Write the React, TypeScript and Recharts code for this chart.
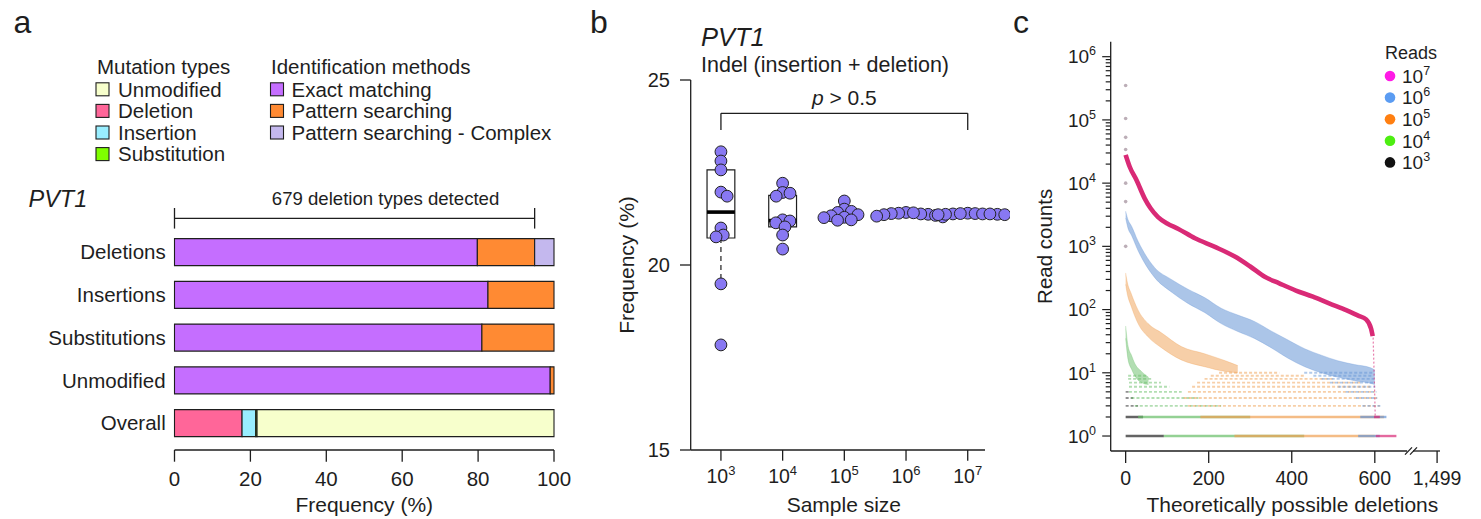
import React from 'react';
import {
  BarChart, Bar, XAxis, YAxis, ComposedChart, Scatter, Line, Area,
  ReferenceArea, ReferenceLine,
} from 'recharts';

const FONT = '"Liberation Sans", Arial, Helvetica, sans-serif';
const INK = '#1e1e1e';
const AXIS = { stroke: INK, strokeWidth: 1.3 };

/* ================= panel a data ================= */
const mutationTypes = ['Unmodified', 'Deletion', 'Insertion', 'Substitution'];
const mutationColors = ['#F7FFCC', '#FF6699', '#99EEFF', '#7FFF00'];
const methodNames = ['Exact matching', 'Pattern searching', 'Pattern searching - Complex'];
const methodColors = ['#C56EFF', '#FF8A33', '#C4B8EE'];

const barCategories = ['Deletions', 'Insertions', 'Substitutions', 'Unmodified', 'Overall'];
const exactMatching = [79.8, 82.6, 81.0, 99.0, 0];
const patternSearching = [15.1, 17.4, 19.0, 1.0, 0];
const patternComplex = [5.1, 0, 0, 0, 0];
const overallDeletion = [0, 0, 0, 0, 17.8];
const overallInsertion = [0, 0, 0, 0, 3.6];
const overallSubstitution = [0, 0, 0, 0, 0.35];
const overallUnmodified = [0, 0, 0, 0, 78.25];
const frequencyTicks = [0, 20, 40, 60, 80, 100];
const deletionTypesDetected = 679;

/* ================= panel b data ================= */
const sampleSizeExponents = [3, 4, 5, 6, 7];
const indel1e3 = [23.06, 22.81, 22.57, 21.97, 21.86, 21.0, 20.81, 20.76, 19.49, 17.84];
const indel1e4 = [22.21, 21.96, 21.94, 21.86, 21.22, 21.19, 21.14, 21.03, 20.81, 20.43];
const indel1e5 = [21.73, 21.51, 21.45, 21.42, 21.36, 21.33, 21.29, 21.28, 21.22, 21.21];
const indel1e6 = [21.42, 21.4, 21.39, 21.37, 21.36, 21.34, 21.32, 21.3, 21.38, 21.41];
const indel1e7 = [21.4, 21.39, 21.38, 21.38, 21.37, 21.37, 21.36, 21.36, 21.39, 21.38];
const boxQ1 = [20.73, 21.03, 21.28, 21.33, 21.36];
const boxMedian = [21.43, 21.2, 21.34, 21.37, 21.38];
const boxQ3 = [22.57, 21.88, 21.45, 21.4, 21.39];
const whiskerLow = [19.49, 20.43, 21.21, 21.3, 21.36];
const whiskerHigh = [23.06, 22.21, 21.73, 21.42, 21.4];
const frequencyTicksB = [15, 20, 25];
const pComparison = '> 0.5';

/* ================= panel c data ================= */
const readDepthExponents = [7, 6, 5, 4, 3];
const readLegendColors = ['#FF1AE6', '#5B9CF2', '#FF7F11', '#4DEE11', '#111111'];
const yTickExponents = [0, 1, 2, 3, 4, 5, 6];
const deletionTickPositions = [0, 200, 400, 600, 750];
const deletionTickLabels = ['0', '200', '400', '600', '1,499'];

// 10^7 reads: [deletion index, read count]
const reads1e7Curve = [
  [0, 28000], [10, 18000], [26, 11200], [46, 5700], [60, 4000], [78, 2900], [100, 2300],
  [126, 1900], [167, 1340], [215, 980], [263, 690], [300, 480], [335, 330], [370, 260],
  [410, 200], [451, 160], [490, 125], [531, 98], [560, 80], [579, 70], [591, 50], [595, 38],
];
const reads1e7Tail = [[596, 36], [598, 12], [600, 4], [601, 2]];
// scatter bands: [deletion index, low count, high count]
const reads1e6Band = [
  [0, 2800, 3600], [6, 1900, 2600], [14, 1500, 2100], [30, 850, 1200], [42, 600, 850],
  [70, 320, 460], [110, 190, 300], [150, 125, 210], [190, 90, 155], [230, 60, 105],
  [270, 45, 82], [310, 35, 65], [350, 25, 46], [391, 17, 33], [431, 12.5, 24],
  [471, 10, 19], [511, 8.5, 15.5], [551, 7.5, 13.5], [590, 6.8, 12], [600, 6.5, 11],
];
const reads1e5Band = [
  [0, 250, 380], [3, 190, 290], [14, 110, 175], [30, 60, 98], [54, 37, 60], [86, 25, 43],
  [134, 16, 26], [190, 12.5, 20], [240, 10.5, 15.5], [270, 10, 13],
];
const reads1e4Band = [
  [0, 35, 55], [6, 16, 26], [14, 11.5, 19], [22, 9, 14], [38, 7, 10.5], [55, 6.5, 8.5],
];
// discrete low-count rows: [read count, first index, last index]
const levels1e3 = [[1, 0, 92], [2, 0, 42], [3, 0, 30], [4, 0, 18], [5, 0, 10]];
const levels1e4 = [[1, 92, 430], [2, 30, 300], [3, 22, 230], [4, 14, 175], [5, 8, 135], [6, 8, 105], [7, 8, 85], [8, 6, 65], [9, 6, 52]];
const levels1e5 = [[1, 262, 600], [2, 180, 622], [3, 150, 612], [4, 140, 606], [5, 150, 600], [6, 160, 592], [7, 172, 565], [8, 190, 500], [9, 205, 430], [10, 225, 370]];
const levels1e6 = [[1, 560, 612], [2, 565, 628], [3, 570, 614], [4, 555, 606], [5, 530, 604], [6, 512, 601], [7, 492, 599], [8, 472, 598], [9, 452, 596], [10, 430, 594]];
const levels1e7 = [[1, 602, 652], [2, 598, 612]];
const topDeletionCounts = [350000, 105000, 53000, 34000, 10000, 5100, 1000];

const plotColors = { r7: '#D92A76', r6: '#6696D6', r5: '#F0A052', r4: '#66BE66', r3: '#222222' };

/* ================= helpers ================= */
// deterministic beeswarm: returns horizontal pixel offsets so markers do not overlap
function swarmOffsets(values: number[], pxPerY: number, minDist: number): number[] {
  const order = values.map((_, i) => i).sort((a, b) => values[b] - values[a]);
  const placed: { dx: number; py: number }[] = [];
  const result: number[] = new Array(values.length).fill(0);
  for (const i of order) {
    const py = values[i] * pxPerY;
    const candidates: number[] = [0];
    for (const p of placed) {
      const dy = Math.abs(p.py - py);
      if (dy < minDist) {
        const off = Math.sqrt(minDist * minDist - dy * dy) + 0.01;
        candidates.push(p.dx + off, p.dx - off);
      }
    }
    candidates.sort((a, b) => Math.abs(a) - Math.abs(b));
    let chosen = candidates[candidates.length - 1];
    for (const c of candidates) {
      if (placed.every((p) => (p.dx - c) ** 2 + (p.py - py) ** 2 >= minDist * minDist - 0.001)) {
        chosen = c;
        break;
      }
    }
    placed.push({ dx: chosen, py });
    result[i] = chosen;
  }
  return result;
}

/* ================= panel a ================= */
const A_FONT = 20.5;
function PanelA() {
  const data = barCategories.map((category, i) => ({
    category,
    exact: exactMatching[i],
    pattern: patternSearching[i],
    complex: patternComplex[i],
    deletion: overallDeletion[i],
    insertion: overallInsertion[i],
    substitution: overallSubstitution[i],
    unmodified: overallUnmodified[i],
  }));
  const series: [string, string][] = [
    ['exact', methodColors[0]], ['pattern', methodColors[1]], ['complex', methodColors[2]],
    ['deletion', mutationColors[1]], ['insertion', mutationColors[2]],
    ['substitution', mutationColors[3]], ['unmodified', mutationColors[0]],
  ];
  const detectedExtent = exactMatching[0] + patternSearching[0];
  const bracket = (p: any) => {
    const y = p.y1 - 33.7;
    return (
      <g>
        <line x1={p.x1} x2={p.x2} y1={y} y2={y} stroke={INK} strokeWidth={1.3} />
        <line x1={p.x1} x2={p.x1} y1={y - 10.3} y2={y + 10.3} stroke={INK} strokeWidth={1.3} />
        <line x1={p.x2} x2={p.x2} y1={y - 10.3} y2={y + 10.3} stroke={INK} strokeWidth={1.3} />
        <text x={(p.x1 + p.x2) / 2 + 31} y={y - 13.3} textAnchor="middle" fontSize={18.6} fill={INK} fontFamily={FONT}>
          {`${deletionTypesDetected} deletion types detected`}
        </text>
      </g>
    );
  };
  return (
    <BarChart layout="vertical" width={580} height={519} data={data}
      margin={{ top: 230.6, right: 26, bottom: 0, left: 0 }} barSize={27}>
      <XAxis type="number" domain={[0, 100]} ticks={frequencyTicks} interval={0} height={69}
        axisLine={AXIS} tickLine={AXIS} tickSize={11.7} tickMargin={10}
        tick={{ fontSize: A_FONT, fill: INK }}
        label={{ value: 'Frequency (%)', position: 'insideBottom', offset: 7, fontSize: 21, fill: INK }} />
      <YAxis type="category" dataKey="category" width={174.5} axisLine={false} tickLine={false}
        tickSize={0} tickMargin={8.8} interval={0} tick={{ fontSize: A_FONT, fill: INK }}
        padding={{ top: 0, bottom: 5.6 }} />
      {series.map(([key, color]) => (
        <Bar key={key} dataKey={key} stackId="freq" fill={color} stroke={INK} strokeWidth={1.1}
          isAnimationActive={false} />
      ))}
      <ReferenceLine segment={[{ x: 0, y: 'Deletions' }, { x: detectedExtent, y: 'Deletions' }]}
        ifOverflow="visible" shape={bracket} />
    </BarChart>
  );
}

/* ================= panel b ================= */
const B_W = 420;
const B_H = 519;
const B_MARGIN = { top: 80, right: 25, bottom: 0, left: 40.7 };
const B_YAXIS_W = 60;
const B_XAXIS_H = 69;
const B_XDOMAIN: [number, number] = [2.51, 7.28];
const B_YDOMAIN: [number, number] = [15, 25];
const bPlotW = B_W - B_MARGIN.left - B_MARGIN.right - B_YAXIS_W;
const bPlotH = B_H - B_MARGIN.top - B_MARGIN.bottom - B_XAXIS_H;
const bPxPerX = bPlotW / (B_XDOMAIN[1] - B_XDOMAIN[0]);
const bPxPerY = bPlotH / (B_YDOMAIN[1] - B_YDOMAIN[0]);
const BOX_HALF_PX = 13.9;
const BRACKET_LEVEL = 24.1;

function PowerTick(props: any) {
  const { x, y, payload, fs, sup, base } = props;
  return (
    <text x={x} y={y + base} textAnchor="middle" fontSize={fs} fill={INK} fontFamily={FONT}>
      10<tspan dy={-fs * 0.42} fontSize={sup}>{payload.value}</tspan>
    </text>
  );
}

function PanelB() {
  const groups = [indel1e3, indel1e4, indel1e5, indel1e6, indel1e7];
  const points = groups.flatMap((vals, g) => {
    const offs = swarmOffsets(vals, bPxPerY, 7.4);
    return vals.map((v, j) => ({ x: sampleSizeExponents[g], y: v, dx: offs[j] }));
  });
  const half = BOX_HALF_PX / bPxPerX;
  const first = sampleSizeExponents[0];
  const last = sampleSizeExponents[sampleSizeExponents.length - 1];
  const bracket = (p: any) => (
    <g>
      <line x1={p.x1} x2={p.x2} y1={p.y1} y2={p.y2} stroke={INK} strokeWidth={1.3} />
      <line x1={p.x1} x2={p.x1} y1={p.y1} y2={p.y1 + 16.7} stroke={INK} strokeWidth={1.3} />
      <line x1={p.x2} x2={p.x2} y1={p.y1} y2={p.y1 + 16.7} stroke={INK} strokeWidth={1.3} />
      <text x={(p.x1 + p.x2) / 2} y={p.y1 - 8.3} textAnchor="middle" fontSize={21} fill={INK} fontFamily={FONT}>
        <tspan fontStyle="italic">p</tspan>{` ${pComparison}`}
      </text>
    </g>
  );
  return (
    <ComposedChart width={B_W} height={B_H} margin={B_MARGIN}>
      <XAxis type="number" dataKey="x" domain={B_XDOMAIN} ticks={sampleSizeExponents} interval={0}
        height={B_XAXIS_H} axisLine={AXIS} tickLine={AXIS} tickSize={10.7} tickMargin={0}
        tick={(p: any) => <PowerTick {...p} fs={19.5} sup={13} base={22.6} />}
        label={{ value: 'Sample size', position: 'insideBottom', offset: 7, dx: 6, fontSize: 21, fill: INK }} />
      <YAxis type="number" dataKey="y" domain={B_YDOMAIN} ticks={frequencyTicksB} interval={0}
        width={B_YAXIS_W} axisLine={AXIS} tickLine={AXIS} tickSize={10.7} tickMargin={10}
        tick={{ fontSize: 20, fill: INK }}
        label={{ value: 'Frequency (%)', angle: -90, position: 'insideLeft', offset: -3.7, fontSize: 21, fill: INK, style: { textAnchor: 'middle' } }} />
      <ReferenceLine segment={[{ x: first, y: BRACKET_LEVEL }, { x: last, y: BRACKET_LEVEL }]}
        ifOverflow="visible" shape={bracket} />
      {sampleSizeExponents.map((e, g) => (
        <ReferenceLine key={'wl' + g} segment={[{ x: e, y: boxQ1[g] }, { x: e, y: whiskerLow[g] }]}
          stroke={INK} strokeWidth={1.2} strokeDasharray="5 4" ifOverflow="visible" />
      ))}
      {sampleSizeExponents.map((e, g) => (
        <ReferenceLine key={'wh' + g} segment={[{ x: e, y: boxQ3[g] }, { x: e, y: whiskerHigh[g] }]}
          stroke={INK} strokeWidth={1.2} strokeDasharray="5 4" ifOverflow="visible" />
      ))}
      {sampleSizeExponents.map((e, g) => (
        <ReferenceArea key={'box' + g} x1={e - half} x2={e + half} y1={boxQ1[g]} y2={boxQ3[g]}
          fill="#ffffff" fillOpacity={1} stroke={INK} strokeWidth={1.2} ifOverflow="visible" />
      ))}
      {sampleSizeExponents.map((e, g) => (
        <ReferenceLine key={'med' + g} segment={[{ x: e - half, y: boxMedian[g] }, { x: e + half, y: boxMedian[g] }]}
          stroke="#000" strokeWidth={3.6} ifOverflow="visible" />
      ))}
      <Scatter data={points} dataKey="y" isAnimationActive={false}
        shape={(p: any) => (
          <circle cx={p.cx + (p.payload ? p.payload.dx : 0)} cy={p.cy} r={5.9} fill="#8878F2" stroke="#222" strokeWidth={1} />
        )} />
    </ComposedChart>
  );
}

/* ================= panel c ================= */
const C_W = 471;
const C_H = 519;
const C_MARGIN = { top: 41.7, right: 41, bottom: 0, left: 40.7 };
const C_YAXIS_W = 60;
const C_XAXIS_H = 68;
const C_XDOMAIN: [number, number] = [-36, 757];
const C_YDOMAIN: [number, number] = [10 ** -0.237, 10 ** 6.237];
const AXIS_BREAK: [number, number] = [678, 692];

const logTicks: number[] = [];
yTickExponents.forEach((k) => {
  for (let m = 1; m <= 9; m++) {
    const v = m * 10 ** k;
    if (v <= C_YDOMAIN[1]) logTicks.push(v);
  }
});

function LogTick(props: any) {
  const { x, y, payload } = props;
  const exp = Math.log10(payload.value);
  const major = Math.abs(exp - Math.round(exp)) < 1e-6;
  return (
    <g>
      <line x1={x - (major ? 8.5 : 5)} x2={x} y1={y} y2={y} stroke={INK} strokeWidth={1.2} />
      {major && (
        <text x={x - 14.7} y={y + 6.8} textAnchor="end" fontSize={19} fill={INK} fontFamily={FONT}>
          10<tspan dy={-8} fontSize={12.5}>{Math.round(exp)}</tspan>
        </text>
      )}
    </g>
  );
}

function DeletionTick(props: any) {
  const { x, y, payload } = props;
  const idx = deletionTickPositions.indexOf(payload.value);
  return (
    <text x={x} y={y + 22} textAnchor="middle" fontSize={19.5} fill={INK} fontFamily={FONT}>
      {deletionTickLabels[idx]}
    </text>
  );
}

function PanelC() {
  const levelSets: [number[][], string][] = [
    [levels1e3, plotColors.r3], [levels1e4, plotColors.r4], [levels1e5, plotColors.r5],
    [levels1e6, plotColors.r6], [levels1e7, plotColors.r7],
  ];
  const bands: [number[][], string, number][] = [
    [reads1e4Band, plotColors.r4, 0.5], [reads1e5Band, plotColors.r5, 0.5], [reads1e6Band, plotColors.r6, 0.55],
  ];
  const yBottom = C_YDOMAIN[0];
  const breakShape = (p: any) => (
    <g>
      <line x1={p.x1} x2={p.x2} y1={p.y1} y2={p.y2} stroke={INK} strokeWidth={1.3} />
      <line x1={p.x1 - 8} x2={p.x1 - 1} y1={p.y1 + 3.6} y2={p.y1 - 3.6} stroke={INK} strokeWidth={1.3} />
      <line x1={p.x1 - 3} x2={p.x1 + 4} y1={p.y1 + 3.6} y2={p.y1 - 3.6} stroke={INK} strokeWidth={1.3} />
    </g>
  );
  return (
    <ComposedChart width={C_W} height={C_H} margin={C_MARGIN}>
      <XAxis type="number" dataKey="x" domain={C_XDOMAIN} ticks={deletionTickPositions} interval={0}
        allowDataOverflow height={C_XAXIS_H} axisLine={false} tickLine={AXIS} tickSize={12} tickMargin={0}
        tick={(p: any) => <DeletionTick {...p} />}
        label={{ value: 'Theoretically possible deletions', position: 'insideBottom', offset: 7, dx: 17, fontSize: 21, fill: INK }} />
      <YAxis type="number" scale="log" domain={C_YDOMAIN} ticks={logTicks} interval={0} allowDataOverflow
        width={C_YAXIS_W} axisLine={AXIS} tickLine={false} tickSize={0} tickMargin={0}
        tick={(p: any) => <LogTick {...p} />}
        label={{ value: 'Read counts', angle: -90, position: 'insideLeft', offset: -5.7, fontSize: 20.5, fill: INK, style: { textAnchor: 'middle' } }} />
      <ReferenceLine segment={[{ x: C_XDOMAIN[0], y: yBottom }, { x: AXIS_BREAK[0], y: yBottom }]}
        stroke={INK} strokeWidth={1.3} ifOverflow="visible" />
      <ReferenceLine segment={[{ x: AXIS_BREAK[1], y: yBottom }, { x: C_XDOMAIN[1], y: yBottom }]}
        ifOverflow="visible" shape={breakShape} />
      <Scatter data={topDeletionCounts.map((v) => ({ x: 0, y: v }))} dataKey="y" isAnimationActive={false}
        shape={(p: any) => <circle cx={p.cx} cy={p.cy} r={1.8} fill="#A08C98" fillOpacity={0.7} />} />
      {levelSets.flatMap(([rows, color], s) =>
        rows.map(([count, from, to], r) => (
          <Line key={`lv${s}-${r}`} data={[{ x: from, y: count }, { x: to, y: count }]} dataKey="y"
            type="linear" stroke={color} strokeWidth={count <= 2 ? 2.4 : 1.9}
            strokeOpacity={count <= 2 ? 0.7 : 0.5} strokeDasharray={count <= 2 ? undefined : '3 2'}
            dot={false} activeDot={false} isAnimationActive={false} />
        )),
      )}
      {bands.map(([rows, color, op], b) => (
        <Area key={`band${b}`} data={rows.map(([x, lo, hi]) => ({ x, range: [lo, hi] }))} dataKey="range"
          type="monotone" stroke={color} strokeOpacity={0.3} strokeWidth={1} fill={color} fillOpacity={op}
          dot={false} activeDot={false} isAnimationActive={false} />
      ))}
      <Line data={reads1e7Tail.map(([x, y]) => ({ x, y }))} dataKey="y" type="linear"
        stroke={plotColors.r7} strokeWidth={1.2} strokeOpacity={0.6} strokeDasharray="2 2"
        dot={false} activeDot={false} isAnimationActive={false} />
      <Line data={reads1e7Curve.map(([x, y]) => ({ x, y }))} dataKey="y" type="monotone"
        stroke={plotColors.r7} strokeWidth={4.6} dot={false} activeDot={false} isAnimationActive={false} />
    </ComposedChart>
  );
}

/* ================= overlay: panel letters, titles, legends ================= */
function Overlay() {
  const row0 = 89.3;
  const rowStep = 21.6;
  const sw = 13;
  return (
    <svg width={1481} height={519} style={{ position: 'absolute', left: 0, top: 0, pointerEvents: 'none' }}
      fontFamily={FONT} fill={INK}>
      <text x={13.5} y={33} fontSize={32}>a</text>
      <text x={590} y={33} fontSize={32}>b</text>
      <text x={1013} y={33} fontSize={32}>c</text>

      {/* panel a legend */}
      <text x={97} y={74} fontSize={A_FONT}>Mutation types</text>
      {mutationTypes.map((name, i) => {
        const cy = row0 + i * rowStep;
        return (
          <g key={name}>
            <rect x={96} y={cy - sw / 2} width={sw} height={sw} fill={mutationColors[i]} stroke={INK} strokeWidth={1.1} />
            <text x={118} y={cy + 7.2} fontSize={A_FONT}>{name}</text>
          </g>
        );
      })}
      <text x={271} y={74} fontSize={A_FONT}>Identification methods</text>
      {methodNames.map((name, i) => {
        const cy = row0 + i * rowStep;
        return (
          <g key={name}>
            <rect x={270.5} y={cy - sw / 2} width={sw} height={sw} fill={methodColors[i]} stroke={INK} strokeWidth={1.1} />
            <text x={291.5} y={cy + 7.2} fontSize={A_FONT}>{name}</text>
          </g>
        );
      })}
      <text x={28.5} y={206.7} fontSize={23.5} fontStyle="italic">PVT1</text>

      {/* panel b titles */}
      <text x={701} y={45.7} fontSize={25.5} fontStyle="italic">PVT1</text>
      <text x={701} y={71.7} fontSize={21.5}>Indel (insertion + deletion)</text>

      {/* panel c legend */}
      <text x={1385} y={58.7} fontSize={18}>Reads</text>
      {readDepthExponents.map((e, i) => {
        const cy = 76 + i * 21.6;
        return (
          <g key={e}>
            <circle cx={1390} cy={cy} r={5.3} fill={readLegendColors[i]} />
            <text x={1402} y={cy + 6.8} fontSize={19}>
              10<tspan dy={-8} fontSize={12.5}>{e}</tspan>
            </text>
          </g>
        );
      })}
    </svg>
  );
}

export default function App() {
  return (
    <div style={{ position: 'absolute', left: 0, top: 0, width: 1481, height: 519, background: '#ffffff', fontFamily: FONT, overflow: 'hidden' }}>
      <div style={{ position: 'absolute', left: 0, top: 0 }}><PanelA /></div>
      <div style={{ position: 'absolute', left: 590, top: 0 }}><PanelB /></div>
      <div style={{ position: 'absolute', left: 1010, top: 0 }}><PanelC /></div>
      <Overlay />
    </div>
  );
}
